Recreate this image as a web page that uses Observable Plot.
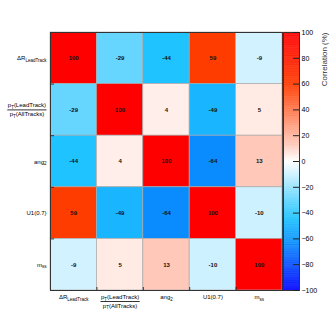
<!DOCTYPE html>
<html><head><meta charset="utf-8">
<script src="https://cdn.jsdelivr.net/npm/d3@7"></script>
<script src="https://cdn.jsdelivr.net/npm/@observablehq/plot@0.6"></script>
<style>
body{margin:0;background:#fff;}
#c{position:relative;width:332px;height:323px;font-family:"Liberation Sans",Arial,sans-serif;}
#c svg{position:absolute;top:0;overflow:visible;}
</style>
</head><body><div id="c"></div>
<script>
// ---- data ----
const variables = ["ΔR_{LeadTrack}", "#frac{p_{T}(LeadTrack)}{p_{T}(AllTracks)}", "ang_{2}", "U1(0.7)", "m_{ss}"];
const row0 = [100, -29, -44, 59, -9];
const row1 = [-29, 100, 4, -49, 5];
const row2 = [-44, 4, 100, -64, 13];
const row3 = [59, -49, -64, 100, -10];
const row4 = [-9, 5, 13, -10, 100];
const correlations = [row0, row1, row2, row3, row4];
const colorTicks = [-100, -80, -60, -40, -20, 0, 20, 40, 60, 80, 100];
const colorbarTitle = "Correlation (%)";

// ---- styling ----
const colorStops = [-100, -64, -44, -29, -9, 0, 4, 13, 59, 100];
const colorRange = ["rgb(0,0,255)", "rgb(10,140,255)", "rgb(30,195,255)", "rgb(102,214,255)", "rgb(210,242,255)",
  "rgb(255,255,255)", "rgb(255,238,234)", "rgb(255,200,184)", "rgb(255,60,0)", "rgb(255,0,0)"];
const colorSpec = {type: "linear", domain: colorStops, range: colorRange, clamp: true};

const n = variables.length;
const cells = [];
correlations.forEach((r, i) => r.forEach((v, j) => cells.push({row: i, col: j, value: v})));

const W = 332, H = 323, mT = 32, mB = 33, mL = 50, mR = 50;
const innerW = W - mL - mR, innerH = H - mT - mB;

const matrix = Plot.plot({
  width: W, height: H, marginTop: mT, marginBottom: mB, marginLeft: mL, marginRight: mR,
  style: {fontFamily: '"Liberation Sans", Arial, sans-serif', background: "transparent"},
  x: {domain: [0, n], axis: null},
  y: {domain: [0, n], reverse: true, axis: null},
  color: colorSpec,
  marks: [
    Plot.rect(cells, {x1: d => d.col, x2: d => d.col + 1, y1: d => d.row, y2: d => d.row + 1,
      fill: "value", stroke: "#aaaaaa", strokeWidth: 0.7}),
    Plot.text(cells, {x: d => d.col + 0.5, y: d => d.row + 0.5, text: d => String(d.value),
      fontSize: 6, fontWeight: "bold", fill: "#111"}),
    Plot.frame({stroke: "#333", strokeWidth: 1}),
    Plot.tickX(d3.range(n + 1), {x: d => d, insetTop: innerH - 3, stroke: "#333"}),
    Plot.tickY(d3.range(n + 1), {y: d => d, insetRight: innerW - 4, stroke: "#333"}),
    Plot.text(variables, {x: 0, y: (d, i) => i + 0.5, className: "rowlab", fontSize: 6}),
    Plot.text(variables, {x: (d, i) => i + 0.5, y: n, className: "collab", fontSize: 6})
  ]
});

const cbLeft = 282;
const colorbar = Plot.plot({
  width: 50, height: H, marginTop: mT, marginBottom: mB, marginLeft: 1, marginRight: 33,
  style: {fontFamily: '"Liberation Sans", Arial, sans-serif', background: "transparent", fontSize: "7px"},
  x: {domain: [0, 1], axis: null},
  y: {domain: [-100, 100], axis: null},
  color: colorSpec,
  marks: [
    Plot.rect(d3.range(-100, 100, 0.5), {x1: 0, x2: 1, y1: d => d, y2: d => d + 0.5,
      fill: d => d + 0.25, stroke: d => d + 0.25, strokeWidth: 0.3}),
    Plot.frame({stroke: "#333"}),
    Plot.tickY(colorTicks, {y: d => d, insetLeft: 10, stroke: "#222"}),
    Plot.axisY({anchor: "right", ticks: colorTicks, tickSize: 0, tickPadding: 2, label: null, fontSize: 7,
      tickFormat: d => d3.format("d")(d)}),
    Plot.text([colorbarTitle], {frameAnchor: "top-right", rotate: -90, textAnchor: "end", dx: 22, fontSize: 8, fill: "#333"})
  ]
});
colorbar.style.left = cbLeft + "px";

const c = document.getElementById("c");
c.appendChild(matrix);
c.appendChild(colorbar);

// ---- rich labels (subscripts and fractions) ----
const NS = "http://www.w3.org/2000/svg";
function addRich(textEl, s) {
  const parts = s.split(/_\{([^}]*)\}/);
  parts.forEach((p, k) => {
    if (!p) return;
    const ts = document.createElementNS(NS, "tspan");
    ts.textContent = p;
    if (k % 2 === 1) {
      ts.setAttribute("font-size", "4.5");
      ts.setAttribute("dy", "1.6");
    } else if (k > 0) {
      ts.setAttribute("dy", "-1.6");
    }
    textEl.appendChild(ts);
  });
}
function parseFrac(s) {
  if (!s.startsWith("#frac{")) return null;
  let depth = 0, i = 5, parts = [], start = 0;
  for (; i < s.length; i++) {
    if (s[i] === "{") { if (depth === 0) start = i + 1; depth++; }
    else if (s[i] === "}") { depth--; if (depth === 0) parts.push(s.slice(start, i)); }
  }
  return parts;
}
function mk(tag, attrs, parent) {
  const e = document.createElementNS(NS, tag);
  for (const k in attrs) e.setAttribute(k, attrs[k]);
  parent.appendChild(e);
  return e;
}
function relabel(sel, isRow) {
  matrix.querySelectorAll(sel + " text").forEach(t => {
    const s = t.textContent;
    const tr = t.getAttribute("transform") || `translate(${t.getAttribute("x") || 0},${t.getAttribute("y") || 0})`;
    const parent = t.parentNode;
    const g = document.createElementNS(NS, "g");
    g.setAttribute("transform", tr + (isRow ? " translate(-4,0)" : ""));
    parent.insertBefore(g, t);
    parent.removeChild(t);
    const frac = parseFrac(s);
    const base = {"font-size": 6, fill: "#000"};
    if (!frac) {
      const te = mk("text", {...base, "text-anchor": isRow ? "end" : "middle", y: isRow ? 2 : 8.5}, g);
      addRich(te, s);
    } else {
      const num = mk("text", {...base, "text-anchor": "middle", y: isRow ? -2.6 : 8.5}, g);
      addRich(num, frac[0]);
      const den = mk("text", {...base, "text-anchor": "middle", y: isRow ? 6.6 : 17}, g);
      addRich(den, frac[1]);
      const w = Math.max(num.getComputedTextLength(), den.getComputedTextLength()) + 1;
      const cx = isRow ? -w / 2 : 0;
      num.setAttribute("x", cx); den.setAttribute("x", cx);
      const ly = isRow ? 0 : 11;
      mk("line", {x1: cx - w / 2, x2: cx + w / 2, y1: ly, y2: ly, stroke: "#000", "stroke-width": 0.8}, g);
    }
  });
}
relabel(".rowlab", true);
relabel(".collab", false);
</script>
</body></html>
